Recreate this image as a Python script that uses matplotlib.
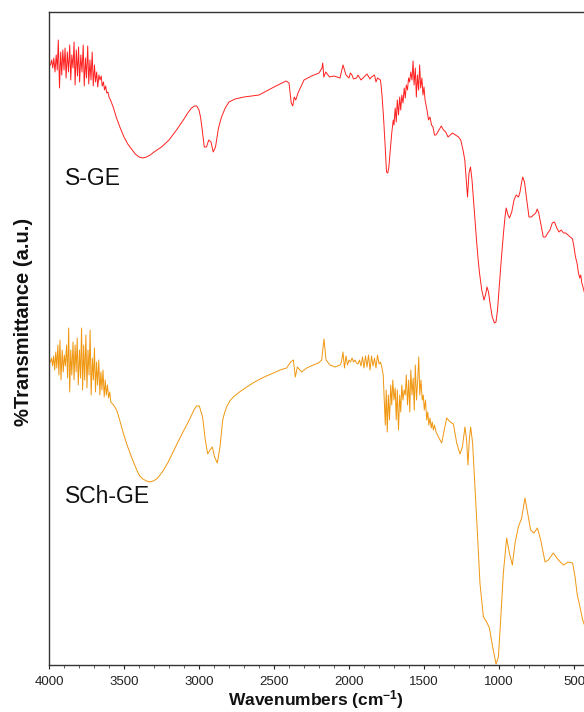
import matplotlib
matplotlib.use("Agg")
import matplotlib.pyplot as plt
from matplotlib.ticker import MultipleLocator

plt.rcParams['font.family'] = ['Liberation Sans', 'DejaVu Sans']
plt.rcParams['mathtext.fontset'] = 'custom'
plt.rcParams['mathtext.rm'] = 'Liberation Sans'
plt.rcParams['mathtext.bf'] = 'Liberation Sans:bold'
plt.rcParams['mathtext.default'] = 'bf'

# FTIR spectra, offset transmittance (arbitrary units)
wn_sge = [3990, 3982, 3975, 3968, 3960, 3952, 3945, 3938, 3930, 3922, 3915, 3908, 3900, 3893, 3886,
          3878, 3870, 3862, 3855, 3848, 3840, 3833, 3826, 3818, 3810, 3803, 3796, 3788, 3780, 3772,
          3765, 3757, 3750, 3742, 3735, 3727, 3720, 3712, 3705, 3697, 3690, 3682, 3675, 3667, 3660,
          3652, 3645, 3637, 3630, 3622, 3615, 3607, 3600, 3590,
          3570, 3550, 3525, 3500, 3475, 3450, 3425, 3400, 3375, 3350, 3325, 3300, 3250, 3200, 3150,
          3100, 3075, 3050, 3030, 3015, 3000, 2990, 2980, 2965, 2950, 2935,
          2920, 2905, 2890, 2870, 2850, 2825, 2800, 2760, 2700, 2650, 2600, 2550, 2500, 2460, 2420,
          2400, 2385, 2375, 2365, 2355,
          2340, 2300, 2250, 2200, 2180, 2175, 2168, 2155, 2130, 2100, 2060, 2040, 2020, 2000, 1990,
          1980, 1970, 1950, 1940, 1920, 1900, 1880, 1860, 1850, 1830, 1820, 1810, 1790, 1780, 1770,
          1760, 1750, 1742, 1735, 1725, 1715, 1705,
          1700, 1692, 1685, 1678, 1670, 1662, 1655, 1648, 1640, 1632, 1625, 1618, 1610, 1603, 1596,
          1588, 1580, 1573, 1566, 1558, 1551, 1544, 1536, 1529, 1522, 1514, 1507, 1500, 1493,
          1480, 1470, 1460, 1450, 1440, 1430, 1420, 1400, 1385, 1370, 1355, 1340, 1325, 1310, 1290,
          1270, 1255, 1240, 1228, 1218, 1210, 1200, 1190, 1180, 1170, 1160, 1150, 1140, 1130, 1115,
          1100, 1090, 1080, 1070, 1060, 1045, 1030, 1020, 1010, 1000, 985, 970, 960, 952, 940,
          930, 915, 900, 885, 870, 860, 850, 842, 830, 815, 800, 785, 770, 755, 745,
          735, 720, 705, 690, 675, 660, 645, 630, 615, 600, 585, 570, 555, 540, 525,
          510, 500, 490, 480, 470, 462, 455, 448, 440, 430, 420, 410, 400]
t_sge = [600, 605, 597, 607, 593, 610, 595, 625, 577, 613, 590, 615, 595, 617, 587,
         613, 593, 620, 585, 610, 597, 623, 580, 615, 589, 618, 583, 610, 593, 620,
         579, 607, 587, 619, 581, 605, 585, 613, 579, 600, 583, 593, 578, 590, 585,
         589, 579, 583, 575, 579, 572, 573, 568, 565,
         557, 547, 537, 528, 521, 516, 511, 508, 507, 508, 510, 513, 518, 525, 535,
         546, 552, 557, 559, 559, 555, 548, 537, 518, 518, 525,
         523, 513, 518, 537, 548, 557, 563, 566, 568, 569, 570, 574, 578, 581, 584,
         582, 562, 559, 568, 565,
         572, 585, 589, 592, 597, 602, 588, 593, 588, 589, 587, 600, 590, 587, 592,
         590, 586, 587, 590, 585, 588, 591, 586, 588, 590, 583, 587, 585, 570, 548,
         522, 493, 492, 497, 515, 532, 545,
         540, 557, 543, 565, 550, 568, 555, 570, 562, 577, 567, 580, 575, 587, 583,
         593, 585, 604, 580, 597, 568, 590, 575, 600, 577, 587, 570, 578, 565,
         555, 545, 548, 540, 538, 530, 530, 535, 539, 535, 533, 528, 530, 532, 530,
         528, 525, 515, 505, 485, 468, 492, 498, 485, 465, 445, 425, 407, 392, 375,
         365, 370, 378, 373, 362, 348, 342, 343, 355, 375, 405, 432, 448, 457, 450,
         447, 453, 465, 470, 468, 473, 482, 488, 483, 465, 448, 448, 450, 452, 456,
         452, 440, 428, 428, 432, 435, 442, 443, 437, 433, 435, 432, 432, 430, 428,
         426, 418, 408, 402, 392, 387, 390, 382, 378, 372, 370, 365, 365]

wn_schge = [3990, 3983, 3976, 3969, 3962, 3955, 3948, 3941, 3934, 3927, 3920, 3912, 3905, 3898, 3891,
            3883, 3876, 3869, 3862, 3855, 3848, 3840, 3833, 3826, 3819, 3812, 3805, 3797, 3790, 3783,
            3776, 3769, 3762, 3754, 3747, 3740, 3733, 3726, 3719, 3711, 3704, 3697, 3690, 3683, 3676,
            3668, 3661, 3654, 3647, 3640, 3632, 3625, 3618, 3610, 3603, 3595, 3588,
            3570, 3549, 3527, 3505, 3482, 3460, 3437, 3415, 3395, 3373, 3350, 3327, 3305, 3282, 3260,
            3240, 3205, 3173, 3140, 3107, 3075, 3049, 3030, 3016, 2998, 2976, 2958,
            2942, 2927, 2911, 2896, 2878, 2860, 2842, 2830, 2816, 2795, 2771, 2730, 2682, 2640, 2593,
            2550, 2504, 2460, 2416, 2389, 2371,
            2358, 2344, 2316, 2282, 2238, 2204, 2182, 2167, 2153, 2127, 2093, 2060,
            2050, 2040, 2030, 2020, 2010, 2000, 1990, 1980, 1970, 1960, 1950, 1940, 1930, 1920, 1910,
            1900, 1890, 1880, 1870, 1860, 1850, 1840, 1830, 1820, 1810, 1800, 1790, 1780, 1772, 1765,
            1758, 1752, 1745, 1738, 1730, 1722, 1715, 1708, 1700, 1692, 1685, 1678, 1670, 1662, 1655,
            1648, 1640, 1632, 1625, 1618, 1610, 1602, 1595, 1588, 1580, 1572, 1565, 1558, 1550, 1542,
            1535, 1528, 1520, 1512, 1505, 1498, 1490, 1482, 1475, 1468, 1460, 1452, 1445, 1438, 1430,
            1420, 1400, 1382, 1365, 1349, 1325, 1304, 1282, 1260, 1244, 1227, 1216, 1207, 1198, 1189,
            1176, 1160, 1144, 1127, 1104, 1082, 1064, 1042, 1020, 1004, 989, 971, 949, 931, 911,
            893, 871, 849, 827, 809, 789, 767, 744, 722, 693, 671, 638, 604, 571, 538,
            509, 493, 478, 460, 442, 430, 420, 400]
t_schge = [303, 307, 299, 309, 295, 313, 297, 320, 290, 325, 285, 315, 293, 310, 299,
           320, 287, 337, 273, 315, 290, 323, 285, 320, 293, 327, 280, 315, 287, 337,
           275, 320, 285, 330, 277, 315, 290, 335, 270, 307, 285, 317, 273, 303, 280,
           305, 270, 293, 275, 295, 268, 285, 270, 280, 267, 273, 263,
           260, 255, 244, 232, 221, 212, 203, 195, 189, 186, 184, 183, 184, 186, 190,
           194, 203, 213, 223, 233, 242, 250, 256, 259, 259, 248, 225,
           211, 215, 218, 208, 202, 218, 245, 252, 258, 264, 268, 273, 278, 282, 286,
           289, 292, 295, 297, 303, 305,
           288, 298, 293, 297, 300, 302, 305, 326, 305, 300, 298, 300,
           303, 313, 297, 309, 300, 305, 303, 307, 303, 305, 302, 301, 305, 299, 308,
           297, 309, 298, 310, 295, 309, 299, 307, 297, 310, 301, 303, 297, 290, 265,
           240, 275, 233, 270, 245, 280, 260, 285, 265, 277, 245, 275, 235, 270, 253,
           280, 265, 275, 270, 290, 260, 285, 253, 295, 270, 287, 255, 300, 265, 285,
           308, 270, 285, 265, 270, 255, 265, 245, 253, 240, 247, 237, 243, 235, 240,
           233, 227, 222, 235, 247, 243, 241, 222, 211, 218, 238, 225, 200, 225, 238,
           222, 178, 132, 82, 48, 43, 37, 18, 1, 8, 45, 92, 127, 112, 100,
           122, 138, 147, 167, 152, 135, 132, 137, 125, 103, 105, 112, 105, 100, 103,
           102, 88, 70, 58, 45, 40, 35, 30]

series_names = ["S-GE", "SCh-GE"]
x_ticks = [4000, 3500, 3000, 2500, 2000, 1500, 1000, 500]

W, H = 584, 712
fig = plt.figure(figsize=(W / 100, H / 100), dpi=100)
ax = fig.add_axes([49 / W, 47 / H, 540 / W, 653 / H])

ax.plot(wn_sge, t_sge, color="#ff2020", lw=0.7)
ax.plot(wn_schge, t_schge, color="#f0960f", lw=0.7)

ax.set_xlim(4000, 400)
ax.set_ylim(0, 653)
ax.set_xticks(x_ticks)
ax.xaxis.set_minor_locator(MultipleLocator(100))
ax.set_yticks([])
ax.tick_params(axis="x", which="major", direction="out", length=3, width=0.8,
               labelsize=9.5, pad=5, colors="#222222")
ax.tick_params(axis="x", which="minor", direction="out", length=2, width=0.6, colors="#444444")
for s in ax.spines.values():
    s.set_color("#333333")
    s.set_linewidth(1.0)

ax.text(65 / W, 1 - 185 / H, series_names[0], transform=fig.transFigure,
        fontsize=16.5, ha="left", va="baseline", color="#111111")
ax.text(65 / W, 1 - 503 / H, series_names[1], transform=fig.transFigure,
        fontsize=16.5, ha="left", va="baseline", color="#111111")

fig.text(316 / W, 1 - 700 / H, r"Wavenumbers (cm$^{-1}$)", fontsize=12.5,
         fontweight="bold", ha="center", va="center", color="#111111")
fig.text(24 / W, 1 - 322 / H, "%Transmittance (a.u.)", fontsize=14.5,
         fontweight="bold", ha="center", va="center", rotation=90, color="#111111")

fig.savefig("out.png", dpi=100)
